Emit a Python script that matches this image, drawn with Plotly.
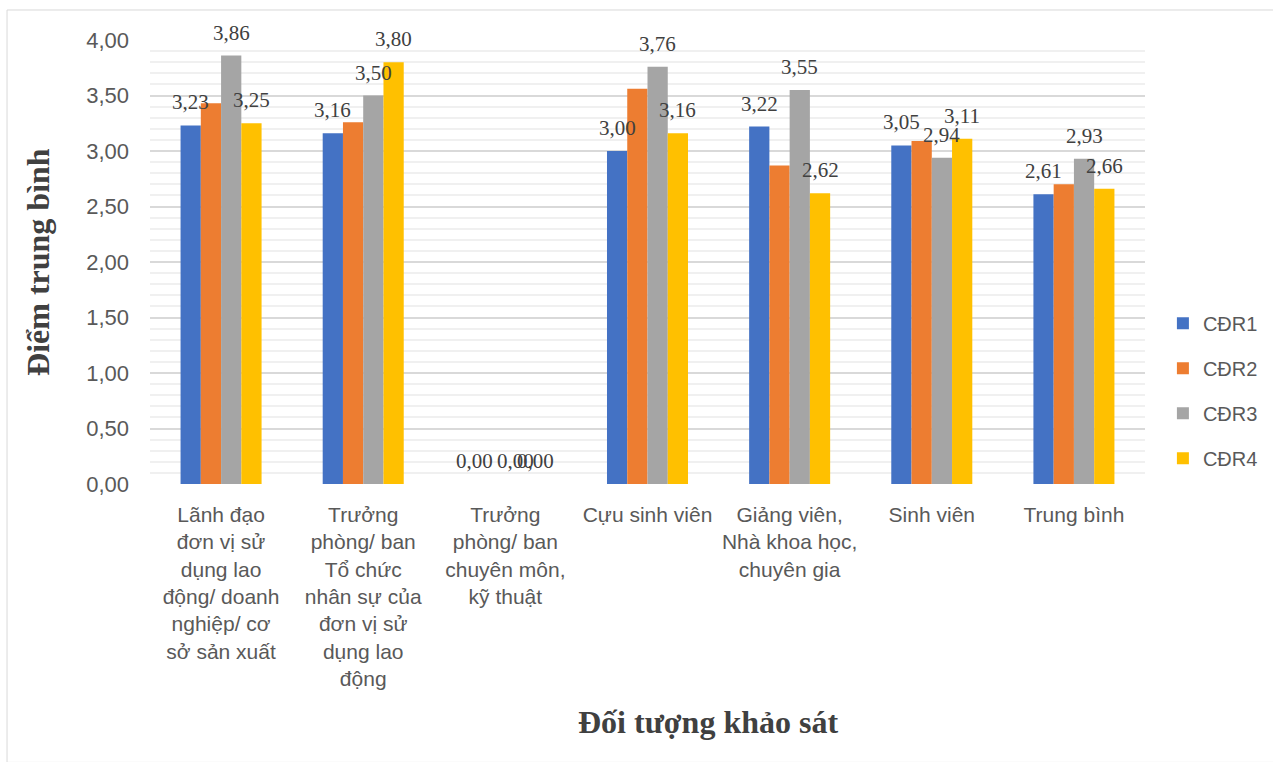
import plotly.graph_objects as go

# Survey groups (x categories)
categories = [
    "Lãnh đạo<br>đơn vị sử<br>dụng lao<br>động/ doanh<br>nghiệp/ cơ<br>sở sản xuất",
    "Trưởng<br>phòng/ ban<br>Tổ chức<br>nhân sự của<br>đơn vị sử<br>dụng lao<br>động",
    "Trưởng<br>phòng/ ban<br>chuyên môn,<br>kỹ thuật",
    "Cựu sinh viên",
    "Giảng viên,<br>Nhà khoa học,<br>chuyên gia",
    "Sinh viên",
    "Trung bình",
]

# Mean score for each learning outcome
cdr1 = [3.23, 3.16, 0.00, 3.00, 3.22, 3.05, 2.61]
cdr2 = [3.43, 3.26, 0.00, 3.56, 2.87, 3.09, 2.70]
cdr3 = [3.86, 3.50, 0.00, 3.76, 3.55, 2.94, 2.93]
cdr4 = [3.25, 3.80, 0.00, 3.16, 2.62, 3.11, 2.66]

series_names = ["CĐR1", "CĐR2", "CĐR3", "CĐR4"]
series_values = [cdr1, cdr2, cdr3, cdr4]
series_colors = ["#4472C4", "#ED7D31", "#A5A5A5", "#FFC000"]
labelled = [True, False, True, True]

y_ticks = [0, 0.5, 1.0, 1.5, 2.0, 2.5, 3.0, 3.5, 4.0]

BARGAP = 0.43
n_series = len(series_names)
bar_w = (1 - BARGAP) / n_series

fig = go.Figure()
for i, (name, vals, col) in enumerate(zip(series_names, series_values, series_colors)):
    fig.add_trace(go.Bar(
        x=categories, y=vals, name=name,
        marker=dict(color=col, line=dict(width=0)),
        legendgroup=name,
    ))

# value labels above the bars
annotations = []
for i, (vals, show) in enumerate(zip(series_values, labelled)):
    if not show:
        continue
    offset = (i - (n_series - 1) / 2) * bar_w
    for j, v in enumerate(vals):
        annotations.append(dict(
            x=j + offset, y=v, xref="x", yref="y",
            text=f"{v:.2f}".replace(".", ","),
            showarrow=False, yanchor="bottom", yshift=9,
            font=dict(family="Liberation Serif", size=21, color="#404040"),
        ))

# axis titles
annotations.append(dict(
    x=-0.1126, y=0.5, xref="paper", yref="paper",
    text="<b>Điểm trung bình</b>", textangle=-90, showarrow=False,
    xanchor="center", yanchor="middle",
    font=dict(family="Liberation Serif", size=32, color="#404040"),
))
annotations.append(dict(
    x=0.561, y=-0.535, xref="paper", yref="paper",
    text="<b>Đối tượng khảo sát</b>", showarrow=False,
    xanchor="center", yanchor="middle",
    font=dict(family="Liberation Serif", size=32, color="#404040"),
))

fig.update_layout(
    width=1273, height=762,
    margin=dict(l=150, r=128, t=40, b=278, autoexpand=False),
    paper_bgcolor="white", plot_bgcolor="white",
    barmode="group", bargap=BARGAP, bargroupgap=0,
    separators=", ",
    showlegend=True,
    legend=dict(
        x=1.018, y=0.21, xanchor="left", yanchor="middle",
        font=dict(family="Liberation Sans", size=20, color="#595959"),
        tracegroupgap=16, itemsizing="constant",
    ),
    annotations=annotations,
    shapes=[dict(
        type="rect", xref="paper", yref="paper",
        x0=-0.1437, x1=1.14, y0=-0.627, y1=1.0676,
        line=dict(color="#d9d9d9", width=1), fillcolor="rgba(0,0,0,0)",
        layer="below",
    )],
)

fig.update_xaxes(
    showgrid=False, showline=False, zeroline=False, ticks="",
    tickfont=dict(family="Liberation Sans", size=21, color="#595959"),
    ticklabelstandoff=16, tickangle=0,
)
fig.update_yaxes(
    range=[0, 4.0], tickvals=y_ticks, tickformat=".2f",
    showgrid=True, gridcolor="#d9d9d9", gridwidth=1.5,
    minor=dict(dtick=0.1, showgrid=True, gridcolor="#f0f0f0", gridwidth=1.5),
    zeroline=False, showline=False, ticks="",
    tickfont=dict(family="Liberation Sans", size=22, color="#595959"),
    ticklabelstandoff=20,
)

fig.write_html("out.html")
